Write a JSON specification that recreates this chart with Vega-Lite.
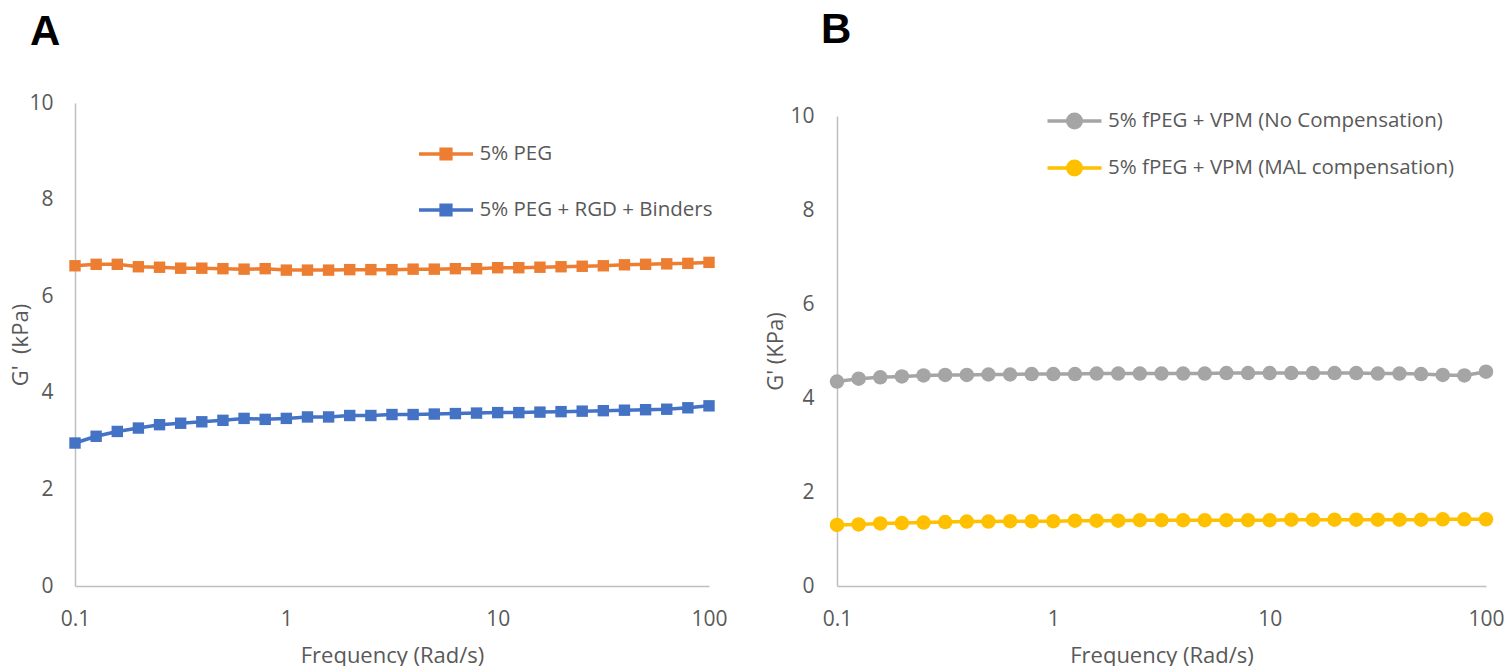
{
  "$schema": "https://vega.github.io/schema/vega-lite/v6.json",
  "padding": {"left": 9, "top": 9, "right": 2, "bottom": 0},
  "background": "white",
  "config": {
    "view": {"stroke": null},
    "font": "Open Sans",
    "axis": {
      "domainColor": "#BFBFBF",
      "domainWidth": 1.5,
      "ticks": false,
      "grid": false,
      "labelColor": "#595959",
      "labelFontSize": 21,
      "labelFont": "Open Sans",
      "titleColor": "#595959",
      "titleFontSize": 22,
      "titleFont": "Open Sans",
      "titleFontWeight": "normal",
      "labelPadding": 22,
      "labelFlush": false,
      "labelOverlap": false
    },
    "legend": {
      "orient": "none",
      "title": null,
      "symbolSize": 729,
      "symbolStrokeWidth": 3.5,
      "labelFontSize": 20.5,
      "labelColor": "#595959",
      "labelFont": "Open Sans",
      "labelOffset": 18,
      "labelLimit": 0,
      "padding": 0,
      "symbolOpacity": 1
    },
    "title": {"font": "Liberation Sans", "fontSize": 42, "fontWeight": "bold", "color": "#000000", "anchor": "start", "frame": "group"}
  },
  "datasets": {
    "a": [
      {"freq": 0.1, "g": 6.63, "series": "5% PEG"},
      {"freq": 0.1259, "g": 6.66, "series": "5% PEG"},
      {"freq": 0.1585, "g": 6.66, "series": "5% PEG"},
      {"freq": 0.1995, "g": 6.61, "series": "5% PEG"},
      {"freq": 0.2512, "g": 6.60, "series": "5% PEG"},
      {"freq": 0.3162, "g": 6.58, "series": "5% PEG"},
      {"freq": 0.3981, "g": 6.58, "series": "5% PEG"},
      {"freq": 0.5012, "g": 6.57, "series": "5% PEG"},
      {"freq": 0.631, "g": 6.56, "series": "5% PEG"},
      {"freq": 0.7943, "g": 6.57, "series": "5% PEG"},
      {"freq": 1, "g": 6.54, "series": "5% PEG"},
      {"freq": 1.259, "g": 6.54, "series": "5% PEG"},
      {"freq": 1.585, "g": 6.54, "series": "5% PEG"},
      {"freq": 1.995, "g": 6.55, "series": "5% PEG"},
      {"freq": 2.512, "g": 6.55, "series": "5% PEG"},
      {"freq": 3.162, "g": 6.55, "series": "5% PEG"},
      {"freq": 3.981, "g": 6.56, "series": "5% PEG"},
      {"freq": 5.012, "g": 6.56, "series": "5% PEG"},
      {"freq": 6.31, "g": 6.57, "series": "5% PEG"},
      {"freq": 7.943, "g": 6.57, "series": "5% PEG"},
      {"freq": 10, "g": 6.59, "series": "5% PEG"},
      {"freq": 12.59, "g": 6.59, "series": "5% PEG"},
      {"freq": 15.85, "g": 6.60, "series": "5% PEG"},
      {"freq": 19.95, "g": 6.61, "series": "5% PEG"},
      {"freq": 25.12, "g": 6.62, "series": "5% PEG"},
      {"freq": 31.62, "g": 6.63, "series": "5% PEG"},
      {"freq": 39.81, "g": 6.65, "series": "5% PEG"},
      {"freq": 50.12, "g": 6.66, "series": "5% PEG"},
      {"freq": 63.1, "g": 6.67, "series": "5% PEG"},
      {"freq": 79.43, "g": 6.68, "series": "5% PEG"},
      {"freq": 100, "g": 6.70, "series": "5% PEG"},
      {"freq": 0.1, "g": 2.96, "series": "5% PEG + RGD + Binders"},
      {"freq": 0.1259, "g": 3.10, "series": "5% PEG + RGD + Binders"},
      {"freq": 0.1585, "g": 3.20, "series": "5% PEG + RGD + Binders"},
      {"freq": 0.1995, "g": 3.27, "series": "5% PEG + RGD + Binders"},
      {"freq": 0.2512, "g": 3.34, "series": "5% PEG + RGD + Binders"},
      {"freq": 0.3162, "g": 3.37, "series": "5% PEG + RGD + Binders"},
      {"freq": 0.3981, "g": 3.40, "series": "5% PEG + RGD + Binders"},
      {"freq": 0.5012, "g": 3.43, "series": "5% PEG + RGD + Binders"},
      {"freq": 0.631, "g": 3.47, "series": "5% PEG + RGD + Binders"},
      {"freq": 0.7943, "g": 3.45, "series": "5% PEG + RGD + Binders"},
      {"freq": 1, "g": 3.47, "series": "5% PEG + RGD + Binders"},
      {"freq": 1.259, "g": 3.50, "series": "5% PEG + RGD + Binders"},
      {"freq": 1.585, "g": 3.50, "series": "5% PEG + RGD + Binders"},
      {"freq": 1.995, "g": 3.53, "series": "5% PEG + RGD + Binders"},
      {"freq": 2.512, "g": 3.53, "series": "5% PEG + RGD + Binders"},
      {"freq": 3.162, "g": 3.55, "series": "5% PEG + RGD + Binders"},
      {"freq": 3.981, "g": 3.55, "series": "5% PEG + RGD + Binders"},
      {"freq": 5.012, "g": 3.56, "series": "5% PEG + RGD + Binders"},
      {"freq": 6.31, "g": 3.57, "series": "5% PEG + RGD + Binders"},
      {"freq": 7.943, "g": 3.58, "series": "5% PEG + RGD + Binders"},
      {"freq": 10, "g": 3.59, "series": "5% PEG + RGD + Binders"},
      {"freq": 12.59, "g": 3.59, "series": "5% PEG + RGD + Binders"},
      {"freq": 15.85, "g": 3.60, "series": "5% PEG + RGD + Binders"},
      {"freq": 19.95, "g": 3.61, "series": "5% PEG + RGD + Binders"},
      {"freq": 25.12, "g": 3.62, "series": "5% PEG + RGD + Binders"},
      {"freq": 31.62, "g": 3.63, "series": "5% PEG + RGD + Binders"},
      {"freq": 39.81, "g": 3.64, "series": "5% PEG + RGD + Binders"},
      {"freq": 50.12, "g": 3.65, "series": "5% PEG + RGD + Binders"},
      {"freq": 63.1, "g": 3.66, "series": "5% PEG + RGD + Binders"},
      {"freq": 79.43, "g": 3.69, "series": "5% PEG + RGD + Binders"},
      {"freq": 100, "g": 3.73, "series": "5% PEG + RGD + Binders"}
    ],
    "b": [
      {"freq": 0.1, "g": 4.35, "series": "5% fPEG + VPM (No Compensation)"},
      {"freq": 0.1259, "g": 4.41, "series": "5% fPEG + VPM (No Compensation)"},
      {"freq": 0.1585, "g": 4.44, "series": "5% fPEG + VPM (No Compensation)"},
      {"freq": 0.1995, "g": 4.46, "series": "5% fPEG + VPM (No Compensation)"},
      {"freq": 0.2512, "g": 4.48, "series": "5% fPEG + VPM (No Compensation)"},
      {"freq": 0.3162, "g": 4.49, "series": "5% fPEG + VPM (No Compensation)"},
      {"freq": 0.3981, "g": 4.49, "series": "5% fPEG + VPM (No Compensation)"},
      {"freq": 0.5012, "g": 4.50, "series": "5% fPEG + VPM (No Compensation)"},
      {"freq": 0.631, "g": 4.50, "series": "5% fPEG + VPM (No Compensation)"},
      {"freq": 0.7943, "g": 4.51, "series": "5% fPEG + VPM (No Compensation)"},
      {"freq": 1, "g": 4.51, "series": "5% fPEG + VPM (No Compensation)"},
      {"freq": 1.259, "g": 4.51, "series": "5% fPEG + VPM (No Compensation)"},
      {"freq": 1.585, "g": 4.52, "series": "5% fPEG + VPM (No Compensation)"},
      {"freq": 1.995, "g": 4.52, "series": "5% fPEG + VPM (No Compensation)"},
      {"freq": 2.512, "g": 4.52, "series": "5% fPEG + VPM (No Compensation)"},
      {"freq": 3.162, "g": 4.52, "series": "5% fPEG + VPM (No Compensation)"},
      {"freq": 3.981, "g": 4.52, "series": "5% fPEG + VPM (No Compensation)"},
      {"freq": 5.012, "g": 4.52, "series": "5% fPEG + VPM (No Compensation)"},
      {"freq": 6.31, "g": 4.53, "series": "5% fPEG + VPM (No Compensation)"},
      {"freq": 7.943, "g": 4.53, "series": "5% fPEG + VPM (No Compensation)"},
      {"freq": 10, "g": 4.53, "series": "5% fPEG + VPM (No Compensation)"},
      {"freq": 12.59, "g": 4.53, "series": "5% fPEG + VPM (No Compensation)"},
      {"freq": 15.85, "g": 4.53, "series": "5% fPEG + VPM (No Compensation)"},
      {"freq": 19.95, "g": 4.53, "series": "5% fPEG + VPM (No Compensation)"},
      {"freq": 25.12, "g": 4.53, "series": "5% fPEG + VPM (No Compensation)"},
      {"freq": 31.62, "g": 4.52, "series": "5% fPEG + VPM (No Compensation)"},
      {"freq": 39.81, "g": 4.52, "series": "5% fPEG + VPM (No Compensation)"},
      {"freq": 50.12, "g": 4.51, "series": "5% fPEG + VPM (No Compensation)"},
      {"freq": 63.1, "g": 4.49, "series": "5% fPEG + VPM (No Compensation)"},
      {"freq": 79.43, "g": 4.48, "series": "5% fPEG + VPM (No Compensation)"},
      {"freq": 100, "g": 4.56, "series": "5% fPEG + VPM (No Compensation)"},
      {"freq": 0.1, "g": 1.30, "series": "5% fPEG + VPM (MAL compensation)"},
      {"freq": 0.1259, "g": 1.31, "series": "5% fPEG + VPM (MAL compensation)"},
      {"freq": 0.1585, "g": 1.33, "series": "5% fPEG + VPM (MAL compensation)"},
      {"freq": 0.1995, "g": 1.34, "series": "5% fPEG + VPM (MAL compensation)"},
      {"freq": 0.2512, "g": 1.35, "series": "5% fPEG + VPM (MAL compensation)"},
      {"freq": 0.3162, "g": 1.36, "series": "5% fPEG + VPM (MAL compensation)"},
      {"freq": 0.3981, "g": 1.37, "series": "5% fPEG + VPM (MAL compensation)"},
      {"freq": 0.5012, "g": 1.37, "series": "5% fPEG + VPM (MAL compensation)"},
      {"freq": 0.631, "g": 1.38, "series": "5% fPEG + VPM (MAL compensation)"},
      {"freq": 0.7943, "g": 1.38, "series": "5% fPEG + VPM (MAL compensation)"},
      {"freq": 1, "g": 1.38, "series": "5% fPEG + VPM (MAL compensation)"},
      {"freq": 1.259, "g": 1.39, "series": "5% fPEG + VPM (MAL compensation)"},
      {"freq": 1.585, "g": 1.39, "series": "5% fPEG + VPM (MAL compensation)"},
      {"freq": 1.995, "g": 1.39, "series": "5% fPEG + VPM (MAL compensation)"},
      {"freq": 2.512, "g": 1.40, "series": "5% fPEG + VPM (MAL compensation)"},
      {"freq": 3.162, "g": 1.40, "series": "5% fPEG + VPM (MAL compensation)"},
      {"freq": 3.981, "g": 1.40, "series": "5% fPEG + VPM (MAL compensation)"},
      {"freq": 5.012, "g": 1.40, "series": "5% fPEG + VPM (MAL compensation)"},
      {"freq": 6.31, "g": 1.40, "series": "5% fPEG + VPM (MAL compensation)"},
      {"freq": 7.943, "g": 1.40, "series": "5% fPEG + VPM (MAL compensation)"},
      {"freq": 10, "g": 1.40, "series": "5% fPEG + VPM (MAL compensation)"},
      {"freq": 12.59, "g": 1.41, "series": "5% fPEG + VPM (MAL compensation)"},
      {"freq": 15.85, "g": 1.41, "series": "5% fPEG + VPM (MAL compensation)"},
      {"freq": 19.95, "g": 1.41, "series": "5% fPEG + VPM (MAL compensation)"},
      {"freq": 25.12, "g": 1.41, "series": "5% fPEG + VPM (MAL compensation)"},
      {"freq": 31.62, "g": 1.41, "series": "5% fPEG + VPM (MAL compensation)"},
      {"freq": 39.81, "g": 1.41, "series": "5% fPEG + VPM (MAL compensation)"},
      {"freq": 50.12, "g": 1.41, "series": "5% fPEG + VPM (MAL compensation)"},
      {"freq": 63.1, "g": 1.42, "series": "5% fPEG + VPM (MAL compensation)"},
      {"freq": 79.43, "g": 1.42, "series": "5% fPEG + VPM (MAL compensation)"},
      {"freq": 100, "g": 1.42, "series": "5% fPEG + VPM (MAL compensation)"}
    ]
  },
  "spacing": 36,
  "resolve": {"scale": {"color": "independent"}},
  "hconcat": [
    {
      "width": 634,
      "height": 483,
      "title": {"text": "A", "dx": -45, "offset": 38},
      "data": {"name": "a"},
      "encoding": {
        "x": {"field": "freq", "type": "quantitative", "scale": {"type": "log", "domain": [0.1, 100], "nice": false}, "axis": {"title": "Frequency (Rad/s)", "values": [0.1, 1, 10, 100], "format": "~g", "titlePadding": 16}},
        "y": {"field": "g", "type": "quantitative", "scale": {"domain": [0, 10], "nice": false}, "axis": {"title": "G'\u00a0\u00a0(kPa)", "values": [0, 2, 4, 6, 8, 10], "titlePadding": -4}},
        "color": {"field": "series", "type": "nominal", "scale": {"domain": ["5% PEG", "5% PEG + RGD + Binders"], "range": ["#ED7D31", "#4472C4"]},
          "legend": {
            "legendX": 355.5, "legendY": 35.5, "rowPadding": 28,
            "symbolType": "M-2,0H2M-0.36,-0.36H0.36V0.36H-0.36Z",
            "encode": {"symbols": {"update": {
              "stroke": [{"test": "datum.value === '5% PEG'", "value": "#ED7D31"}, {"value": "#4472C4"}],
              "fill": [{"test": "datum.value === '5% PEG'", "value": "#ED7D31"}, {"value": "#4472C4"}],
              "strokeWidth": {"value": 3.5}, "opacity": {"value": 1}
            }}}
          }}
      },
      "layer": [
        {"mark": {"type": "line", "strokeWidth": 3.5}},
        {"mark": {"type": "point", "shape": "square", "filled": true, "opacity": 1, "size": 130}}
      ]
    },
    {
      "spacing": 0,
      "vconcat": [
        {
          "width": 649,
          "height": 2,
          "title": {"text": "B", "dx": -16, "offset": 51},
          "data": {"values": []},
          "mark": "point"
        },
        {
          "width": 649,
          "height": 470,
          "data": {"name": "b"},
          "encoding": {
            "x": {"field": "freq", "type": "quantitative", "scale": {"type": "log", "domain": [0.1, 100], "nice": false}, "axis": {"title": "Frequency (Rad/s)", "values": [0.1, 1, 10, 100], "format": "~g", "titlePadding": 16}},
            "y": {"field": "g", "type": "quantitative", "scale": {"domain": [0, 10], "nice": false}, "axis": {"title": "G' (KPa)", "values": [0, 2, 4, 6, 8, 10], "titlePadding": 2, "labelPadding": 23}},
            "color": {"field": "series", "type": "nominal", "scale": {"domain": ["5% fPEG + VPM (No Compensation)", "5% fPEG + VPM (MAL compensation)"], "range": ["#A5A5A5", "#FFC000"]},
              "legend": {
                "legendX": 222, "legendY": 2.5, "rowPadding": 17,
                "symbolType": "M-2,0H2M0.5,0A0.5,0.5 0 1,1 -0.5,0A0.5,0.5 0 1,1 0.5,0Z",
                "encode": {"symbols": {"update": {
                  "stroke": [{"test": "datum.value === '5% fPEG + VPM (No Compensation)'", "value": "#A5A5A5"}, {"value": "#FFC000"}],
                  "fill": [{"test": "datum.value === '5% fPEG + VPM (No Compensation)'", "value": "#A5A5A5"}, {"value": "#FFC000"}],
                  "strokeWidth": {"value": 3.5}, "opacity": {"value": 1}
                }}}
              }}
          },
          "layer": [
            {"mark": {"type": "line", "strokeWidth": 3.5}},
            {"mark": {"type": "point", "shape": "circle", "filled": true, "opacity": 1, "size": 210}}
          ]
        }
      ]
    }
  ]
}
